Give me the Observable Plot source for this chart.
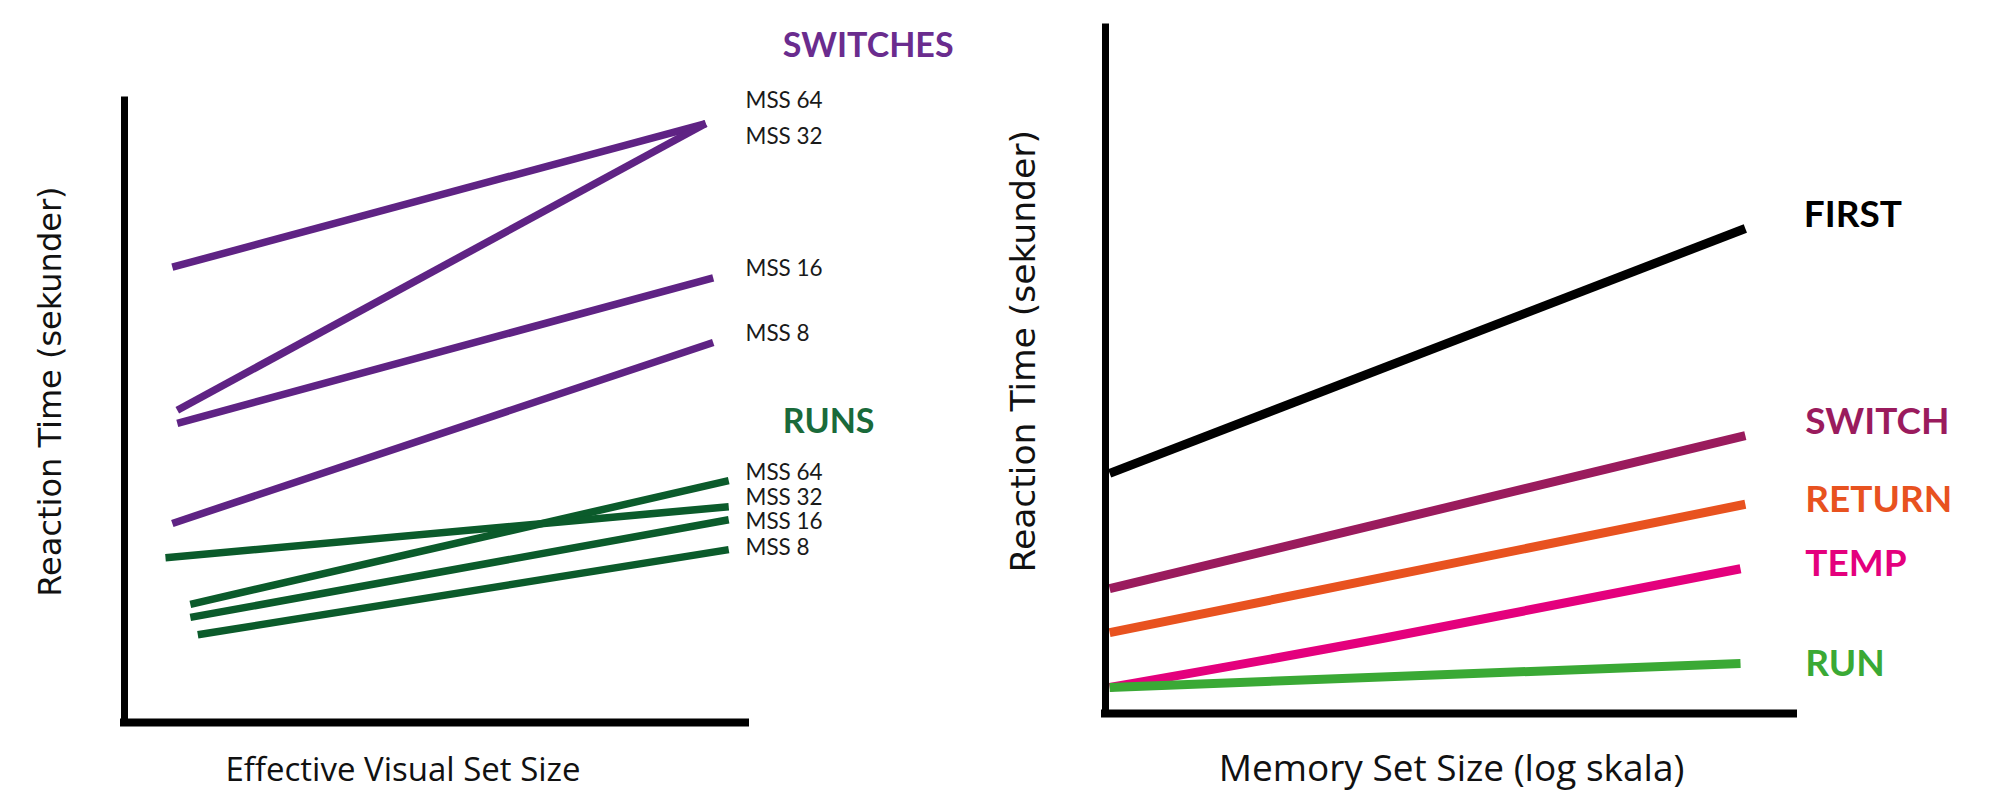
<!DOCTYPE html>
<html>
<head>
<meta charset="utf-8">
<script src="https://cdn.jsdelivr.net/npm/d3@7"></script>
<script src="https://cdn.jsdelivr.net/npm/@observablehq/plot@0.6"></script>
<style>
  html, body { margin: 0; padding: 0; background: #fff; }
  #wrap { position: relative; width: 2003px; height: 796px; overflow: hidden; }
  #left { position: absolute; left: 0; top: 0; }
  #right { position: absolute; left: 1000px; top: 0; }
  svg { overflow: visible; }
</style>
</head>
<body>
<div id="wrap"><div id="left"></div><div id="right"></div></div>
<script>
// ---------- Left panel: RT vs effective visual set size (schematic units 0-100) ----------
const mssLabels = ["MSS 64", "MSS 32", "MSS 16", "MSS 8"];

const switchX0 = [7.7, 8.5, 8.5, 7.7];
const switchX1 = [93.6, 93.6, 94.8, 94.8];
const switchY0 = [73.2, 50.2, 48.1, 32.0];
const switchY1 = [96.3, 96.3, 71.5, 61.1];
const switchLabelY = [100.0, 94.1, 73.0, 62.5];

const runX0 = [10.6, 6.6, 10.6, 11.8];
const runX1 = [97.3, 97.3, 97.3, 97.3];
const runY0 = [19.0, 26.5, 16.9, 14.1];
const runY1 = [38.9, 34.7, 32.6, 27.8];
const runLabelY = [40.2, 36.2, 32.2, 28.1];

const groupTitles = ["SWITCHES", "RUNS"];
const groupTitleX = [106, 106];
const groupTitleY = [108.7, 48.3];
const mssLabelX = 100;

const leftXTitle = "Effective Visual Set Size";
const yTitle = "Reaction Time (sekunder)";
const leftYTitlePos = [-11.8, 53.2];

// ---------- Right panel: RT vs memory set size (log scale, schematic units 0-100) ----------
const memCond = ["FIRST", "FIRST", "SWITCH", "SWITCH", "RETURN", "RETURN", "TEMP", "TEMP", "TEMP", "RUN", "RUN"];
const memX    = [0.6, 93.0, 0.6, 93.0, 0.6, 93.0, 0.6, 40.6, 92.3, 0.6, 92.3];
const memRT   = [35.0, 70.7, 18.2, 40.5, 11.8, 30.5, 3.8, 11.0, 21.1, 3.8, 7.3];

const conditions = ["FIRST", "SWITCH", "RETURN", "TEMP", "RUN"];
const condLabelX = [101.5, 101.7, 101.7, 101.7, 101.7];
const condLabelY = [72.6, 42.5, 31.1, 21.8, 7.2];
const condColors = ["#000000", "#9a1b5d", "#e8521f", "#e4007d", "#3aa935"];

const rightXTitle = "Memory Set Size (log skala)";
const rightYTitlePos = [-11.8, 52.8];

const PURPLE = "#5f2384", PURPLE_T = "#6a2c8e";
const DGREEN = "#0b5b2b", DGREEN_T = "#1a6a3a";
const LABEL_FONT = "Lato, 'Open Sans', sans-serif";
const XT_FONT = "'Open Sans', sans-serif";
const YT_FONT = "'DejaVu Sans', sans-serif";

const idx4 = d3.range(4);

const left = Plot.plot({
  width: 1000, height: 796,
  marginLeft: 124, marginRight: 255, marginTop: 100, marginBottom: 74,
  x: {domain: [0, 100], axis: null},
  y: {domain: [0, 100], axis: null},
  style: {background: "transparent", overflow: "visible"},
  marks: [
    Plot.link(idx4, {x1: i => switchX0[i], x2: i => switchX1[i], y1: i => switchY0[i], y2: i => switchY1[i],
      stroke: PURPLE, strokeWidth: 7.5, strokeLinecap: "butt"}),
    Plot.link(idx4, {x1: i => runX0[i], x2: i => runX1[i], y1: i => runY0[i], y2: i => runY1[i],
      stroke: DGREEN, strokeWidth: 7.5, strokeLinecap: "butt"}),
    Plot.ruleX([0], {y1: 0, y2: 100, stroke: "#000", strokeWidth: 7, strokeLinecap: "square"}),
    Plot.ruleY([0], {x1: 0, x2: 100, stroke: "#000", strokeWidth: 8, strokeLinecap: "square"}),
    Plot.text(idx4, {x: () => mssLabelX, y: i => switchLabelY[i], text: i => mssLabels[i],
      textAnchor: "start", fontSize: 22.5, fontFamily: LABEL_FONT, fill: "#1a1a1a"}),
    Plot.text(idx4, {x: () => mssLabelX, y: i => runLabelY[i], text: i => mssLabels[i],
      textAnchor: "start", fontSize: 22.5, fontFamily: LABEL_FONT, fill: "#1a1a1a"}),
    Plot.text([0, 1], {x: i => groupTitleX[i], y: i => groupTitleY[i], text: i => groupTitles[i],
      textAnchor: "start", fontSize: 34, fontWeight: "bold", fontFamily: LABEL_FONT,
      fill: i => [PURPLE_T, DGREEN_T][i]}),
    Plot.text([leftXTitle], {frameAnchor: "bottom", dx: -32, dy: 58,
      fontSize: 33, fontFamily: XT_FONT, fill: "#111"}),
    Plot.text([yTitle], {x: () => leftYTitlePos[0], y: () => leftYTitlePos[1], rotate: -90,
      fontSize: 32, fontFamily: YT_FONT, fill: "#111"})
  ]
});
document.getElementById("left").appendChild(left);

const memData = memCond.map((c, i) => ({cond: c, x: memX[i], rt: memRT[i]}));
const idx5 = d3.range(5);

const right = Plot.plot({
  width: 1003, height: 796,
  marginLeft: 105, marginRight: 210, marginTop: 27, marginBottom: 83,
  x: {domain: [0, 100], axis: null},
  y: {domain: [0, 100], axis: null},
  color: {domain: conditions, range: condColors},
  style: {background: "transparent", overflow: "visible"},
  marks: [
    Plot.line(memData, {x: "x", y: "rt", z: "cond", stroke: "cond", strokeWidth: 9,
      strokeLinecap: "butt", curve: "natural"}),
    Plot.ruleX([0], {y1: 0, y2: 100, stroke: "#000", strokeWidth: 7, strokeLinecap: "square"}),
    Plot.ruleY([0], {x1: 0, x2: 100, stroke: "#000", strokeWidth: 8, strokeLinecap: "square"}),
    Plot.text(idx5, {x: i => condLabelX[i], y: i => condLabelY[i], text: i => conditions[i],
      fill: i => conditions[i], textAnchor: "start", fontSize: 37, fontWeight: "bold", fontFamily: LABEL_FONT}),
    Plot.text([rightXTitle], {frameAnchor: "bottom", dx: 2, dy: 67,
      fontSize: 37, fontFamily: XT_FONT, fill: "#111"}),
    Plot.text([yTitle], {x: () => rightYTitlePos[0], y: () => rightYTitlePos[1], rotate: -90,
      fontSize: 34.5, fontFamily: YT_FONT, fill: "#111"})
  ]
});
document.getElementById("right").appendChild(right);
</script>
</body>
</html>
